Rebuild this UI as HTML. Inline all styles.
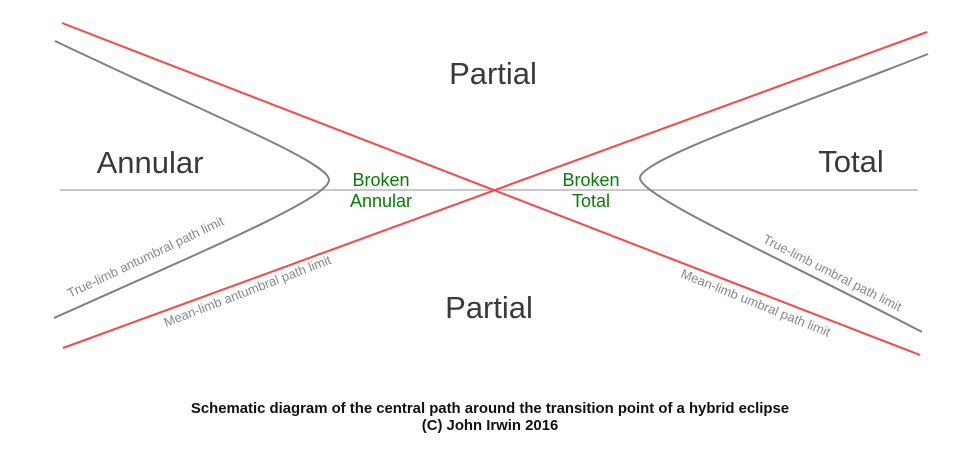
<!DOCTYPE html>
<html><head><style>body{margin:0;background:#fff}svg{display:block}</style></head><body>
<svg width="980" height="470" xmlns="http://www.w3.org/2000/svg" font-family="Liberation Sans, sans-serif">
<line x1="60" y1="190" x2="918" y2="190" stroke="#c8c8c8" stroke-width="2"/>
<line x1="62" y1="23" x2="920" y2="355" stroke="#f44" stroke-width="2"/>
<line x1="63" y1="348" x2="927" y2="32" stroke="#f44" stroke-width="2"/>
<path d="M55,41 C210,115 329,162 329,180 C329,198 210,248 54,318" fill="none" stroke="#808080" stroke-width="2"/>
<path d="M928,54 C780,112 640,160 640,178 C640,196 780,258 922,332" fill="none" stroke="#808080" stroke-width="2"/>
<g fill="#3a3a3a" font-size="31" text-anchor="middle">
<text x="493" y="84">Partial</text>
<text x="150" y="173">Annular</text>
<text x="851" y="172">Total</text>
<text x="489" y="318">Partial</text>
</g>
<g fill="#008000" font-size="18" text-anchor="middle">
<text x="381" y="186">Broken</text><text x="381" y="207">Annular</text>
<text x="591" y="186">Broken</text><text x="591" y="207">Total</text>
</g>
<g fill="#888" font-size="13">
<text transform="translate(70,298) rotate(-25.5)">True-limb antumbral path limit</text>
<text transform="translate(166,327) rotate(-21)">Mean-limb antumbral path limit</text>
<text transform="translate(762,242) rotate(27)">True-limb umbral path limit</text>
<text transform="translate(680,277) rotate(22)">Mean-limb umbral path limit</text>
</g>
<g fill="#111" font-size="14.9" font-weight="bold" text-anchor="middle">
<text x="490" y="413">Schematic diagram of the central path around the transition point of a hybrid eclipse</text>
<text x="490" y="430">(C) John Irwin 2016</text>
</g>
</svg>
</body></html>
